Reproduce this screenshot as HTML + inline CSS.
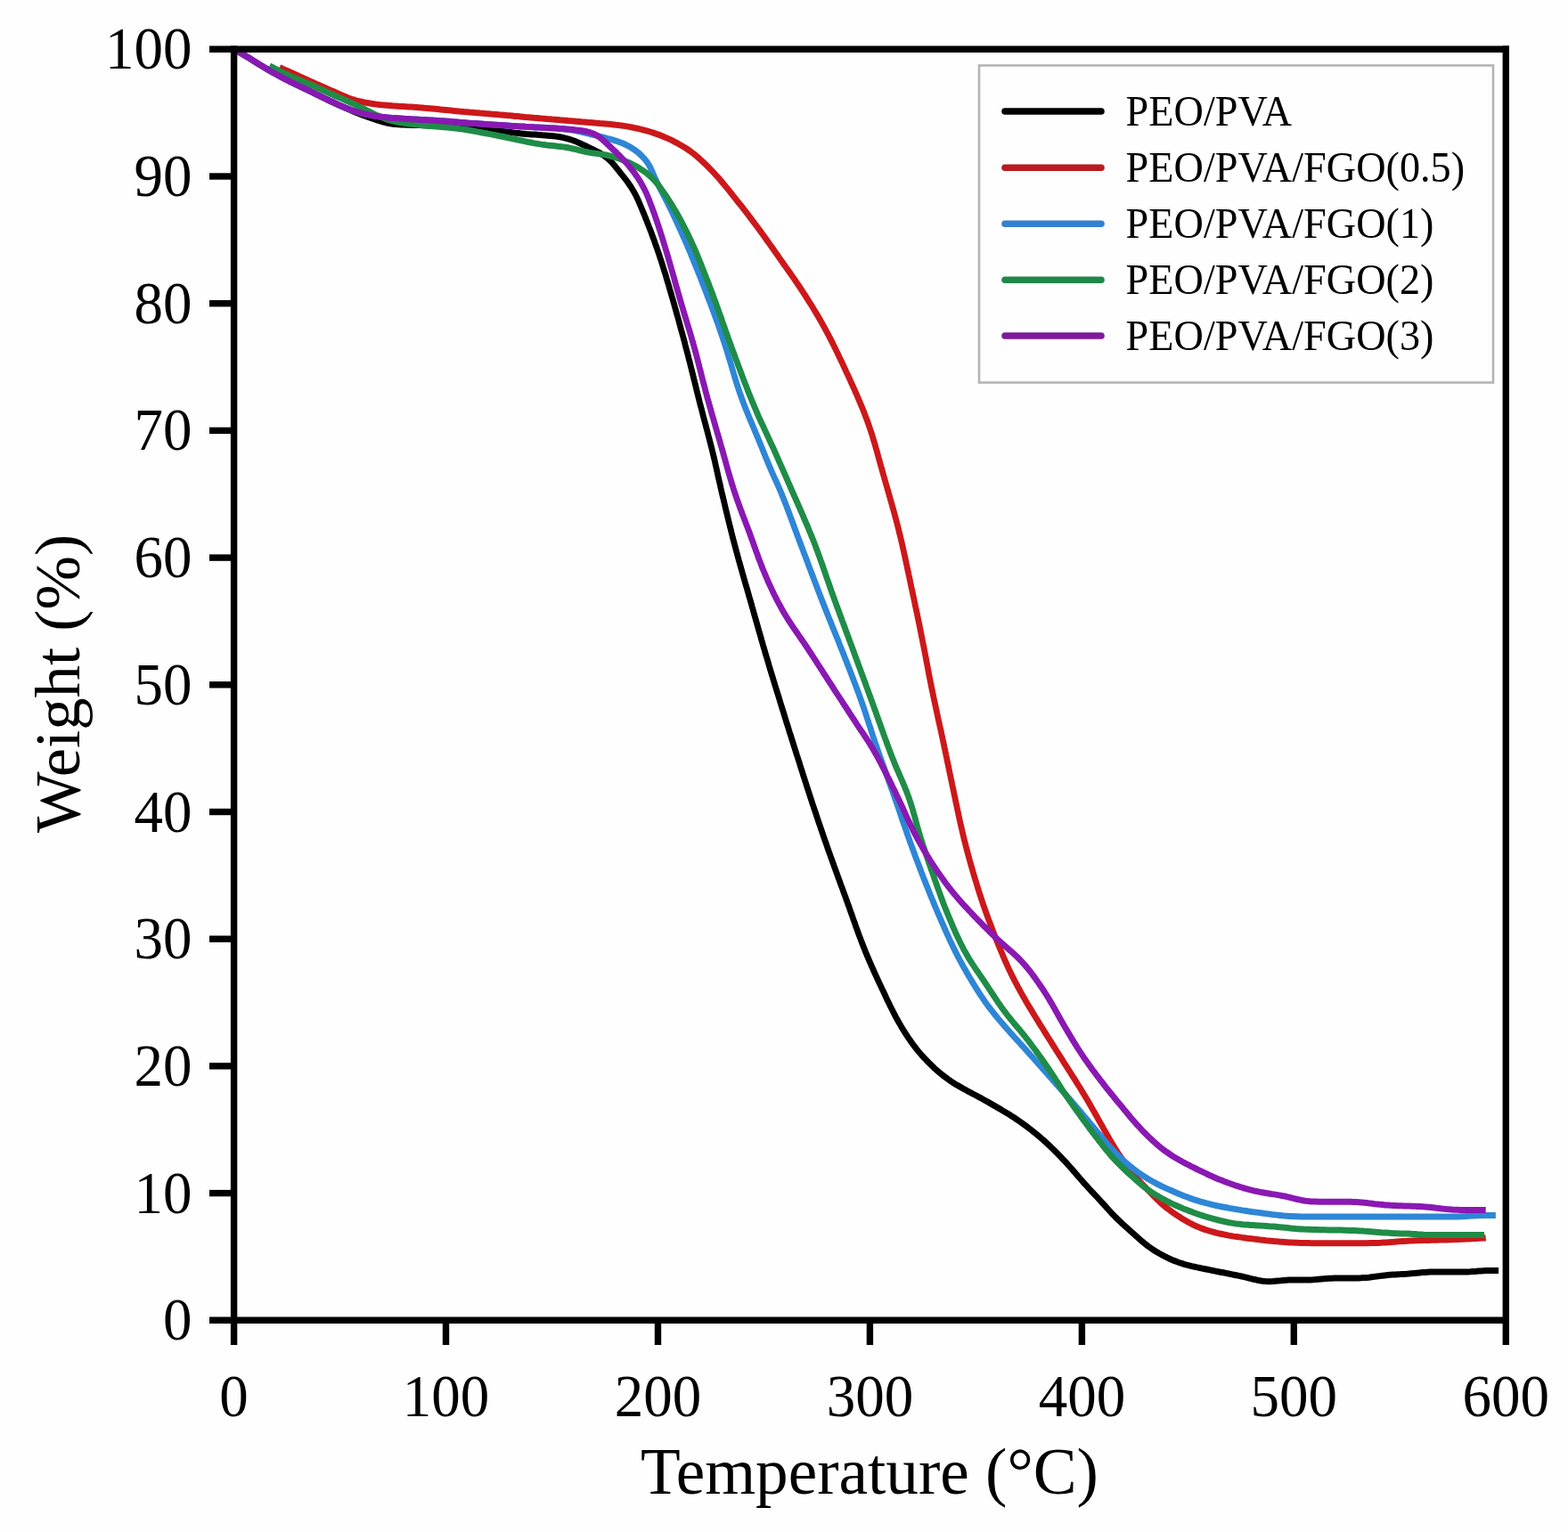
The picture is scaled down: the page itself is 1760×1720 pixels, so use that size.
<!DOCTYPE html>
<html lang="en">
<head>
<meta charset="utf-8">
<title>TGA curves: Weight (%) vs Temperature (°C)</title>
<style>
html,body{margin:0;padding:0;background:#fefefe;}
body{width:1760px;height:1720px;overflow:hidden;}
svg{display:block;}
text{font-family:"Liberation Serif","Times New Roman",Times,serif;fill:#000;}
.tick{font-size:65px;}
.leg{font-size:49.5px;}
.ttl{font-size:73.2px;}
.ax{stroke:#000;stroke-width:7.4;fill:none;stroke-linecap:butt;}
.cv{fill:none;stroke-width:7.0;stroke-linejoin:round;stroke-linecap:butt;}
.ll{fill:none;stroke-width:7.6;stroke-linecap:round;}
</style>
</head>
<body>
<svg width="1760" height="1720" viewBox="0 0 1760 1720">
<rect x="0" y="0" width="1760" height="1720" fill="#fefefe"/>

<g id="curves" transform="scale(0.97 1)">
<path class="cv" stroke="#000000" d="M271.1 55.5 L273.8 57.0 L276.5 58.5 L279.2 59.9 L281.9 61.5 L284.5 63.0 L287.2 64.5 L289.8 66.1 L292.4 67.7 L295.1 69.3 L297.7 70.9 L300.3 72.5 L303.0 74.0 L305.6 75.6 L308.3 77.1 L310.9 78.6 L313.6 80.1 L316.3 81.6 L319.0 83.0 L321.7 84.5 L324.4 85.9 L327.2 87.3 L329.9 88.7 L332.7 90.1 L335.4 91.4 L338.2 92.8 L341.0 94.1 L343.8 95.4 L346.5 96.7 L349.3 98.0 L352.1 99.3 L354.9 100.6 L357.7 101.9 L360.5 103.2 L363.3 104.5 L366.0 105.8 L368.8 107.2 L371.6 108.5 L374.4 109.8 L377.1 111.1 L379.9 112.5 L382.7 113.8 L385.5 115.0 L388.3 116.3 L391.1 117.6 L393.9 118.8 L396.8 120.0 L399.6 121.2 L402.4 122.4 L405.3 123.6 L408.1 124.8 L411.0 125.9 L413.9 127.0 L416.7 128.1 L419.6 129.2 L422.5 130.2 L425.4 131.3 L428.3 132.3 L431.3 133.3 L434.2 134.2 L437.1 135.1 L440.1 136.0 L443.0 136.9 L446.0 137.6 L449.0 138.3 L452.0 138.8 L455.1 139.3 L458.2 139.6 L461.2 139.8 L464.3 140.0 L467.4 140.1 L470.5 140.2 L473.6 140.3 L476.7 140.4 L479.8 140.5 L482.9 140.5 L486.0 140.6 L489.0 140.7 L492.1 140.8 L495.2 140.9 L498.3 141.0 L501.4 141.1 L504.5 141.2 L507.6 141.3 L510.7 141.5 L513.8 141.6 L516.9 141.7 L520.0 141.9 L523.0 142.0 L526.1 142.2 L529.2 142.4 L532.3 142.5 L535.4 142.7 L538.5 142.9 L541.6 143.1 L544.7 143.3 L547.7 143.5 L550.8 143.8 L553.9 144.0 L557.0 144.3 L560.1 144.6 L563.1 144.9 L566.2 145.3 L569.3 145.7 L572.3 146.1 L575.4 146.5 L578.5 146.9 L581.5 147.3 L584.6 147.7 L587.7 148.1 L590.7 148.5 L593.8 148.9 L596.9 149.3 L599.9 149.6 L603.0 149.9 L606.1 150.2 L609.2 150.5 L612.3 150.7 L615.3 150.9 L618.4 151.1 L621.5 151.3 L624.6 151.5 L627.7 151.8 L630.8 152.0 L633.9 152.2 L636.9 152.5 L640.0 152.8 L643.1 153.1 L646.1 153.5 L649.2 154.0 L652.2 154.6 L655.2 155.3 L658.2 156.1 L661.1 157.0 L664.0 158.0 L666.9 159.1 L669.7 160.3 L672.5 161.5 L675.3 162.8 L678.1 164.0 L680.9 165.3 L683.7 166.6 L686.5 167.9 L689.3 169.3 L692.0 170.7 L694.7 172.1 L697.3 173.7 L699.8 175.4 L702.3 177.2 L704.6 179.1 L706.8 181.2 L708.9 183.4 L710.9 185.6 L712.9 188.0 L714.8 190.3 L716.7 192.6 L718.6 195.0 L720.6 197.3 L722.5 199.7 L724.4 202.0 L726.2 204.4 L728.0 206.9 L729.8 209.4 L731.4 211.9 L733.0 214.5 L734.5 217.1 L735.9 219.7 L737.3 222.4 L738.6 225.1 L739.8 227.9 L741.0 230.6 L742.2 233.4 L743.4 236.2 L744.6 239.0 L745.8 241.7 L746.9 244.5 L748.1 247.3 L749.2 250.1 L750.3 252.9 L751.4 255.7 L752.6 258.5 L753.7 261.3 L754.7 264.1 L755.8 266.9 L756.9 269.7 L757.9 272.6 L758.9 275.4 L760.0 278.2 L761.0 281.1 L762.0 283.9 L763.0 286.7 L763.9 289.6 L764.9 292.4 L765.9 295.3 L766.8 298.2 L767.7 301.0 L768.6 303.9 L769.6 306.7 L770.5 309.6 L771.3 312.5 L772.2 315.4 L773.1 318.2 L774.0 321.1 L774.8 324.0 L775.7 326.9 L776.6 329.8 L777.4 332.7 L778.3 335.5 L779.1 338.4 L780.0 341.3 L780.8 344.2 L781.7 347.1 L782.5 350.0 L783.3 352.9 L784.2 355.8 L785.0 358.6 L785.8 361.5 L786.6 364.4 L787.4 367.3 L788.2 370.2 L789.1 373.1 L789.9 376.0 L790.7 378.9 L791.5 381.8 L792.3 384.7 L793.0 387.6 L793.8 390.5 L794.6 393.4 L795.4 396.3 L796.2 399.2 L796.9 402.1 L797.7 405.0 L798.5 407.9 L799.2 410.9 L800.0 413.8 L800.7 416.7 L801.5 419.6 L802.2 422.5 L802.9 425.4 L803.7 428.3 L804.4 431.2 L805.2 434.2 L805.9 437.1 L806.6 440.0 L807.4 442.9 L808.1 445.8 L808.9 448.7 L809.6 451.6 L810.4 454.5 L811.2 457.4 L812.0 460.3 L812.7 463.2 L813.5 466.2 L814.3 469.1 L815.1 472.0 L815.9 474.9 L816.7 477.8 L817.5 480.7 L818.3 483.6 L819.1 486.5 L819.8 489.4 L820.6 492.3 L821.4 495.2 L822.2 498.1 L822.9 501.0 L823.7 503.9 L824.4 506.8 L825.1 509.7 L825.9 512.6 L826.6 515.6 L827.3 518.5 L827.9 521.4 L828.6 524.3 L829.3 527.3 L830.0 530.2 L830.6 533.1 L831.3 536.1 L832.0 539.0 L832.7 541.9 L833.4 544.8 L834.0 547.8 L834.7 550.7 L835.4 553.6 L836.1 556.5 L836.9 559.5 L837.6 562.4 L838.3 565.3 L839.0 568.2 L839.7 571.1 L840.4 574.0 L841.2 577.0 L841.9 579.9 L842.6 582.8 L843.3 585.7 L844.1 588.6 L844.8 591.5 L845.6 594.4 L846.3 597.4 L847.1 600.3 L847.8 603.2 L848.6 606.1 L849.4 609.0 L850.2 611.9 L851.0 614.8 L851.8 617.7 L852.6 620.6 L853.4 623.5 L854.2 626.4 L855.0 629.3 L855.9 632.2 L856.7 635.0 L857.5 637.9 L858.4 640.8 L859.2 643.7 L860.1 646.6 L860.9 649.5 L861.8 652.4 L862.6 655.2 L863.5 658.1 L864.4 661.0 L865.2 663.9 L866.1 666.8 L866.9 669.7 L867.8 672.5 L868.6 675.4 L869.5 678.3 L870.3 681.2 L871.2 684.1 L872.0 687.0 L872.8 689.9 L873.7 692.7 L874.5 695.6 L875.4 698.5 L876.2 701.4 L877.1 704.3 L877.9 707.2 L878.8 710.1 L879.6 712.9 L880.5 715.8 L881.3 718.7 L882.2 721.6 L883.0 724.5 L883.9 727.4 L884.8 730.2 L885.6 733.1 L886.5 736.0 L887.4 738.9 L888.3 741.8 L889.2 744.6 L890.0 747.5 L890.9 750.4 L891.8 753.3 L892.7 756.1 L893.6 759.0 L894.5 761.9 L895.4 764.7 L896.3 767.6 L897.2 770.5 L898.1 773.3 L899.0 776.2 L900.0 779.1 L900.9 781.9 L901.8 784.8 L902.7 787.7 L903.6 790.5 L904.5 793.4 L905.4 796.3 L906.4 799.1 L907.3 802.0 L908.2 804.9 L909.1 807.7 L910.0 810.6 L911.0 813.5 L911.9 816.3 L912.8 819.2 L913.7 822.1 L914.7 824.9 L915.6 827.8 L916.5 830.6 L917.5 833.5 L918.4 836.4 L919.3 839.2 L920.3 842.1 L921.2 844.9 L922.1 847.8 L923.1 850.7 L924.0 853.5 L925.0 856.4 L925.9 859.2 L926.8 862.1 L927.8 865.0 L928.7 867.8 L929.6 870.7 L930.6 873.5 L931.5 876.4 L932.5 879.2 L933.4 882.1 L934.4 885.0 L935.3 887.8 L936.3 890.7 L937.2 893.5 L938.2 896.4 L939.2 899.2 L940.1 902.1 L941.1 904.9 L942.1 907.8 L943.1 910.6 L944.1 913.5 L945.0 916.3 L946.0 919.1 L947.0 922.0 L948.0 924.8 L949.0 927.7 L950.0 930.5 L951.0 933.3 L952.0 936.2 L953.0 939.0 L954.0 941.9 L955.1 944.7 L956.1 947.5 L957.1 950.4 L958.1 953.2 L959.1 956.0 L960.2 958.8 L961.2 961.7 L962.3 964.5 L963.3 967.3 L964.4 970.1 L965.4 973.0 L966.5 975.8 L967.5 978.6 L968.6 981.4 L969.6 984.2 L970.7 987.1 L971.8 989.9 L972.8 992.7 L973.9 995.5 L975.0 998.3 L976.0 1001.1 L977.1 1004.0 L978.2 1006.8 L979.2 1009.6 L980.3 1012.4 L981.3 1015.2 L982.4 1018.1 L983.4 1020.9 L984.4 1023.7 L985.5 1026.6 L986.5 1029.4 L987.5 1032.2 L988.6 1035.0 L989.6 1037.9 L990.6 1040.7 L991.7 1043.5 L992.7 1046.3 L993.8 1049.2 L994.9 1052.0 L996.0 1054.8 L997.1 1057.6 L998.2 1060.4 L999.3 1063.2 L1000.5 1066.0 L1001.6 1068.7 L1002.8 1071.5 L1004.0 1074.3 L1005.2 1077.0 L1006.4 1079.8 L1007.7 1082.5 L1008.9 1085.3 L1010.2 1088.0 L1011.4 1090.8 L1012.7 1093.5 L1014.0 1096.2 L1015.3 1099.0 L1016.6 1101.7 L1017.9 1104.4 L1019.2 1107.1 L1020.5 1109.8 L1021.9 1112.5 L1023.2 1115.3 L1024.5 1118.0 L1025.8 1120.7 L1027.1 1123.4 L1028.5 1126.1 L1029.8 1128.8 L1031.2 1131.5 L1032.6 1134.2 L1034.0 1136.9 L1035.4 1139.5 L1036.8 1142.2 L1038.3 1144.8 L1039.8 1147.4 L1041.4 1150.0 L1042.9 1152.6 L1044.5 1155.2 L1046.2 1157.7 L1047.8 1160.3 L1049.5 1162.8 L1051.2 1165.3 L1053.0 1167.7 L1054.7 1170.2 L1056.5 1172.6 L1058.4 1175.0 L1060.3 1177.4 L1062.2 1179.7 L1064.2 1182.0 L1066.2 1184.3 L1068.3 1186.5 L1070.4 1188.7 L1072.5 1190.9 L1074.7 1193.0 L1076.9 1195.2 L1079.1 1197.2 L1081.4 1199.3 L1083.7 1201.3 L1086.0 1203.3 L1088.4 1205.2 L1090.8 1207.1 L1093.2 1208.9 L1095.7 1210.7 L1098.2 1212.5 L1100.7 1214.2 L1103.3 1215.8 L1106.0 1217.4 L1108.6 1218.9 L1111.3 1220.4 L1114.0 1221.9 L1116.7 1223.3 L1119.4 1224.8 L1122.1 1226.2 L1124.9 1227.6 L1127.6 1229.0 L1130.4 1230.4 L1133.1 1231.8 L1135.8 1233.2 L1138.5 1234.7 L1141.2 1236.2 L1143.9 1237.6 L1146.6 1239.1 L1149.2 1240.6 L1151.9 1242.1 L1154.6 1243.6 L1157.3 1245.1 L1159.9 1246.7 L1162.6 1248.2 L1165.2 1249.7 L1167.9 1251.3 L1170.5 1252.9 L1173.1 1254.5 L1175.7 1256.2 L1178.2 1257.9 L1180.8 1259.6 L1183.3 1261.3 L1185.8 1263.1 L1188.3 1264.9 L1190.7 1266.7 L1193.2 1268.5 L1195.6 1270.4 L1198.0 1272.3 L1200.4 1274.2 L1202.8 1276.1 L1205.1 1278.1 L1207.4 1280.0 L1209.7 1282.0 L1212.0 1284.1 L1214.3 1286.1 L1216.5 1288.2 L1218.7 1290.3 L1220.9 1292.4 L1223.1 1294.5 L1225.3 1296.7 L1227.4 1298.8 L1229.5 1301.0 L1231.7 1303.2 L1233.8 1305.4 L1235.8 1307.6 L1237.9 1309.8 L1240.0 1312.1 L1242.0 1314.4 L1244.0 1316.6 L1246.0 1318.9 L1248.0 1321.2 L1250.1 1323.5 L1252.1 1325.7 L1254.1 1328.0 L1256.2 1330.2 L1258.3 1332.4 L1260.4 1334.6 L1262.5 1336.8 L1264.6 1339.0 L1266.7 1341.2 L1268.9 1343.4 L1271.0 1345.6 L1273.1 1347.8 L1275.1 1350.0 L1277.2 1352.2 L1279.3 1354.4 L1281.3 1356.7 L1283.4 1358.9 L1285.5 1361.1 L1287.6 1363.3 L1289.8 1365.5 L1292.0 1367.6 L1294.2 1369.7 L1296.4 1371.7 L1298.7 1373.8 L1301.0 1375.8 L1303.3 1377.8 L1305.6 1379.8 L1307.9 1381.8 L1310.2 1383.8 L1312.5 1385.8 L1314.8 1387.8 L1317.1 1389.8 L1319.4 1391.8 L1321.7 1393.8 L1324.1 1395.7 L1326.5 1397.6 L1328.9 1399.4 L1331.5 1401.1 L1334.0 1402.8 L1336.6 1404.4 L1339.3 1406.0 L1341.9 1407.5 L1344.6 1408.9 L1347.4 1410.3 L1350.1 1411.7 L1352.9 1413.0 L1355.7 1414.2 L1358.6 1415.4 L1361.5 1416.4 L1364.4 1417.5 L1367.3 1418.4 L1370.3 1419.3 L1373.2 1420.1 L1376.2 1420.8 L1379.2 1421.6 L1382.2 1422.2 L1385.3 1422.9 L1388.3 1423.5 L1391.3 1424.1 L1394.3 1424.7 L1397.4 1425.3 L1400.4 1425.9 L1403.4 1426.5 L1406.5 1427.1 L1409.5 1427.7 L1412.5 1428.3 L1415.6 1428.8 L1418.6 1429.4 L1421.6 1430.0 L1424.7 1430.6 L1427.7 1431.2 L1430.7 1431.8 L1433.8 1432.4 L1436.8 1433.0 L1439.8 1433.6 L1442.8 1434.3 L1445.8 1435.1 L1448.8 1435.8 L1451.8 1436.5 L1454.8 1437.2 L1457.8 1437.8 L1460.8 1438.3 L1463.9 1438.6 L1466.9 1438.7 L1470.0 1438.7 L1473.1 1438.5 L1476.1 1438.2 L1479.2 1437.9 L1482.3 1437.7 L1485.4 1437.4 L1488.5 1437.2 L1491.5 1437.1 L1494.6 1437.1 L1497.7 1437.0 L1500.8 1437.0 L1503.9 1437.0 L1507.0 1437.1 L1510.1 1437.0 L1513.2 1437.0 L1516.3 1436.9 L1519.3 1436.8 L1522.4 1436.6 L1525.5 1436.3 L1528.6 1436.0 L1531.6 1435.7 L1534.7 1435.5 L1537.8 1435.3 L1540.9 1435.2 L1544.0 1435.1 L1547.0 1435.1 L1550.1 1435.1 L1553.2 1435.0 L1556.3 1435.0 L1559.4 1435.0 L1562.5 1435.0 L1565.6 1435.0 L1568.7 1434.9 L1571.8 1434.9 L1574.9 1434.8 L1578.0 1434.6 L1581.0 1434.4 L1584.1 1434.2 L1587.2 1433.8 L1590.3 1433.4 L1593.3 1433.0 L1596.4 1432.6 L1599.4 1432.2 L1602.5 1431.9 L1605.6 1431.6 L1608.7 1431.3 L1611.7 1431.1 L1614.8 1430.9 L1617.9 1430.7 L1621.0 1430.6 L1624.1 1430.4 L1627.2 1430.3 L1630.3 1430.1 L1633.3 1429.8 L1636.4 1429.5 L1639.5 1429.2 L1642.6 1428.9 L1645.6 1428.6 L1648.7 1428.4 L1651.8 1428.2 L1654.9 1428.1 L1658.0 1428.1 L1661.1 1428.0 L1664.2 1428.0 L1667.3 1428.0 L1670.4 1428.0 L1673.5 1428.0 L1676.5 1428.0 L1679.6 1428.0 L1682.7 1428.0 L1685.8 1428.0 L1688.9 1428.0 L1692.0 1428.0 L1695.1 1428.0 L1698.2 1427.9 L1701.3 1427.8 L1704.3 1427.6 L1707.4 1427.4 L1710.5 1427.1 L1713.5 1426.9 L1716.6 1426.7 L1719.7 1426.5 L1722.8 1426.5 L1725.9 1426.4 L1729.0 1426.4 L1732.1 1426.4 L1734.1 1426.4"/>
<path class="cv" stroke="#cc181a" d="M323.5 75.6 L326.3 76.8 L329.1 78.1 L331.9 79.3 L334.7 80.5 L337.6 81.8 L340.4 83.0 L343.2 84.2 L346.0 85.5 L348.8 86.7 L351.7 87.9 L354.5 89.1 L357.3 90.4 L360.1 91.6 L363.0 92.8 L365.8 94.1 L368.6 95.3 L371.4 96.5 L374.2 97.7 L377.1 99.0 L379.9 100.2 L382.7 101.4 L385.6 102.6 L388.4 103.8 L391.2 105.0 L394.1 106.2 L396.9 107.4 L399.8 108.6 L402.6 109.7 L405.5 110.7 L408.4 111.7 L411.4 112.6 L414.4 113.3 L417.4 114.0 L420.4 114.7 L423.4 115.3 L426.5 115.8 L429.5 116.3 L432.6 116.7 L435.6 117.1 L438.7 117.5 L441.8 117.8 L444.9 118.0 L447.9 118.3 L451.0 118.5 L454.1 118.8 L457.2 119.0 L460.3 119.2 L463.4 119.4 L466.5 119.5 L469.5 119.7 L472.6 119.9 L475.7 120.1 L478.8 120.3 L481.9 120.5 L485.0 120.7 L488.1 120.9 L491.1 121.2 L494.2 121.4 L497.3 121.7 L500.4 122.0 L503.5 122.3 L506.5 122.6 L509.6 122.9 L512.7 123.2 L515.8 123.5 L518.9 123.8 L521.9 124.1 L525.0 124.4 L528.1 124.7 L531.2 125.0 L534.3 125.2 L537.3 125.5 L540.4 125.7 L543.5 126.0 L546.6 126.2 L549.7 126.5 L552.8 126.7 L555.8 127.0 L558.9 127.2 L562.0 127.5 L565.1 127.7 L568.2 128.0 L571.2 128.2 L574.3 128.5 L577.4 128.8 L580.5 129.0 L583.6 129.3 L586.7 129.6 L589.7 129.8 L592.8 130.1 L595.9 130.4 L599.0 130.6 L602.1 130.9 L605.1 131.2 L608.2 131.5 L611.3 131.7 L614.4 132.0 L617.5 132.3 L620.6 132.5 L623.6 132.8 L626.7 133.1 L629.8 133.3 L632.9 133.6 L636.0 133.8 L639.0 134.1 L642.1 134.3 L645.2 134.5 L648.3 134.8 L651.4 135.0 L654.5 135.2 L657.6 135.5 L660.6 135.7 L663.7 135.9 L666.8 136.2 L669.9 136.4 L673.0 136.7 L676.1 136.9 L679.1 137.2 L682.2 137.4 L685.3 137.7 L688.4 138.0 L691.5 138.2 L694.5 138.5 L697.6 138.7 L700.7 139.0 L703.8 139.3 L706.9 139.6 L709.9 139.9 L713.0 140.3 L716.1 140.6 L719.2 141.0 L722.2 141.4 L725.3 141.9 L728.3 142.4 L731.4 143.0 L734.4 143.6 L737.4 144.2 L740.4 144.9 L743.4 145.6 L746.4 146.4 L749.4 147.2 L752.3 148.0 L755.3 148.9 L758.2 149.9 L761.2 150.9 L764.0 151.9 L766.9 153.0 L769.8 154.2 L772.6 155.4 L775.4 156.6 L778.2 157.9 L780.9 159.3 L783.7 160.7 L786.4 162.2 L789.1 163.7 L791.7 165.2 L794.3 166.8 L796.9 168.5 L799.4 170.2 L801.8 172.0 L804.3 173.9 L806.6 175.8 L809.0 177.8 L811.3 179.8 L813.5 181.8 L815.8 183.9 L818.0 186.0 L820.2 188.1 L822.3 190.2 L824.5 192.4 L826.6 194.6 L828.7 196.8 L830.8 199.0 L832.8 201.3 L834.8 203.6 L836.8 205.9 L838.8 208.2 L840.7 210.5 L842.7 212.8 L844.6 215.2 L846.5 217.5 L848.5 219.9 L850.4 222.2 L852.3 224.6 L854.2 226.9 L856.2 229.3 L858.1 231.6 L860.0 234.0 L861.9 236.4 L863.8 238.7 L865.7 241.1 L867.5 243.5 L869.4 245.9 L871.3 248.3 L873.1 250.7 L875.0 253.1 L876.8 255.5 L878.7 257.9 L880.5 260.3 L882.3 262.8 L884.1 265.2 L885.9 267.6 L887.7 270.1 L889.5 272.5 L891.3 275.0 L893.1 277.4 L894.9 279.9 L896.6 282.3 L898.4 284.8 L900.2 287.2 L902.0 289.7 L903.8 292.2 L905.5 294.6 L907.3 297.1 L909.1 299.5 L910.9 302.0 L912.7 304.4 L914.5 306.9 L916.2 309.3 L918.0 311.8 L919.8 314.2 L921.5 316.7 L923.3 319.2 L925.0 321.7 L926.7 324.2 L928.4 326.7 L930.1 329.2 L931.8 331.7 L933.4 334.3 L935.1 336.8 L936.7 339.3 L938.4 341.9 L940.0 344.4 L941.6 347.0 L943.2 349.6 L944.8 352.1 L946.4 354.7 L947.9 357.3 L949.5 359.9 L951.0 362.5 L952.5 365.2 L954.0 367.8 L955.5 370.4 L956.9 373.1 L958.4 375.7 L959.8 378.4 L961.2 381.0 L962.6 383.7 L964.0 386.4 L965.4 389.1 L966.8 391.8 L968.1 394.5 L969.5 397.2 L970.8 399.9 L972.1 402.6 L973.5 405.3 L974.8 408.0 L976.1 410.7 L977.4 413.5 L978.7 416.2 L980.0 418.9 L981.3 421.6 L982.6 424.4 L983.9 427.1 L985.1 429.8 L986.4 432.5 L987.7 435.3 L989.0 438.0 L990.2 440.8 L991.5 443.5 L992.7 446.3 L993.9 449.0 L995.1 451.8 L996.3 454.5 L997.5 457.3 L998.7 460.1 L999.8 462.9 L1000.9 465.7 L1002.0 468.5 L1003.1 471.3 L1004.2 474.1 L1005.2 476.9 L1006.2 479.8 L1007.2 482.6 L1008.2 485.5 L1009.1 488.3 L1010.0 491.2 L1010.9 494.1 L1011.8 496.9 L1012.7 499.8 L1013.5 502.7 L1014.4 505.6 L1015.2 508.5 L1016.0 511.4 L1016.8 514.3 L1017.7 517.2 L1018.5 520.1 L1019.3 523.0 L1020.2 525.8 L1021.0 528.7 L1021.8 531.6 L1022.7 534.5 L1023.5 537.4 L1024.4 540.3 L1025.2 543.2 L1026.1 546.0 L1026.9 548.9 L1027.8 551.8 L1028.6 554.7 L1029.5 557.6 L1030.3 560.5 L1031.2 563.4 L1032.0 566.3 L1032.8 569.1 L1033.7 572.0 L1034.5 574.9 L1035.3 577.8 L1036.1 580.7 L1036.9 583.6 L1037.7 586.5 L1038.5 589.4 L1039.2 592.3 L1040.0 595.2 L1040.7 598.2 L1041.5 601.1 L1042.2 604.0 L1042.9 606.9 L1043.6 609.8 L1044.3 612.8 L1045.0 615.7 L1045.7 618.6 L1046.3 621.5 L1047.0 624.5 L1047.6 627.4 L1048.3 630.3 L1048.9 633.3 L1049.6 636.2 L1050.2 639.1 L1050.9 642.1 L1051.5 645.0 L1052.2 648.0 L1052.8 650.9 L1053.4 653.8 L1054.1 656.8 L1054.7 659.7 L1055.4 662.6 L1056.0 665.6 L1056.7 668.5 L1057.3 671.4 L1058.0 674.4 L1058.6 677.3 L1059.2 680.2 L1059.9 683.2 L1060.5 686.1 L1061.2 689.0 L1061.8 692.0 L1062.4 694.9 L1063.0 697.9 L1063.7 700.8 L1064.3 703.7 L1064.9 706.7 L1065.5 709.6 L1066.1 712.6 L1066.7 715.5 L1067.3 718.4 L1067.9 721.4 L1068.5 724.3 L1069.1 727.3 L1069.7 730.2 L1070.3 733.2 L1070.9 736.1 L1071.5 739.1 L1072.0 742.0 L1072.6 745.0 L1073.2 747.9 L1073.8 750.9 L1074.3 753.8 L1074.9 756.8 L1075.5 759.7 L1076.1 762.7 L1076.7 765.6 L1077.3 768.5 L1077.9 771.5 L1078.5 774.4 L1079.2 777.4 L1079.8 780.3 L1080.4 783.2 L1081.1 786.2 L1081.7 789.1 L1082.4 792.0 L1083.0 795.0 L1083.7 797.9 L1084.3 800.8 L1085.0 803.8 L1085.6 806.7 L1086.3 809.6 L1087.0 812.6 L1087.6 815.5 L1088.3 818.4 L1089.0 821.4 L1089.6 824.3 L1090.3 827.2 L1090.9 830.2 L1091.6 833.1 L1092.2 836.0 L1092.8 839.0 L1093.5 841.9 L1094.1 844.8 L1094.7 847.8 L1095.4 850.7 L1096.0 853.7 L1096.6 856.6 L1097.3 859.5 L1097.9 862.5 L1098.5 865.4 L1099.1 868.3 L1099.8 871.3 L1100.4 874.2 L1101.1 877.2 L1101.7 880.1 L1102.3 883.0 L1103.0 886.0 L1103.6 888.9 L1104.2 891.8 L1104.9 894.8 L1105.5 897.7 L1106.1 900.7 L1106.8 903.6 L1107.4 906.5 L1108.0 909.5 L1108.7 912.4 L1109.3 915.3 L1110.0 918.3 L1110.6 921.2 L1111.3 924.1 L1112.0 927.1 L1112.7 930.0 L1113.4 932.9 L1114.1 935.8 L1114.8 938.7 L1115.5 941.7 L1116.3 944.6 L1117.1 947.5 L1117.8 950.4 L1118.6 953.3 L1119.4 956.2 L1120.2 959.1 L1121.0 962.0 L1121.8 964.9 L1122.6 967.8 L1123.5 970.7 L1124.3 973.6 L1125.2 976.4 L1126.0 979.3 L1126.9 982.2 L1127.8 985.1 L1128.7 988.0 L1129.6 990.8 L1130.5 993.7 L1131.4 996.6 L1132.3 999.4 L1133.3 1002.3 L1134.2 1005.1 L1135.2 1008.0 L1136.1 1010.8 L1137.1 1013.7 L1138.1 1016.5 L1139.1 1019.4 L1140.2 1022.2 L1141.2 1025.0 L1142.2 1027.8 L1143.3 1030.7 L1144.4 1033.5 L1145.5 1036.3 L1146.6 1039.1 L1147.7 1041.9 L1148.8 1044.7 L1149.9 1047.5 L1151.0 1050.3 L1152.2 1053.1 L1153.3 1055.9 L1154.5 1058.6 L1155.6 1061.4 L1156.8 1064.2 L1158.0 1067.0 L1159.2 1069.7 L1160.4 1072.5 L1161.6 1075.3 L1162.8 1078.0 L1164.1 1080.8 L1165.3 1083.5 L1166.6 1086.2 L1167.9 1089.0 L1169.3 1091.7 L1170.6 1094.4 L1172.0 1097.0 L1173.4 1099.7 L1174.8 1102.4 L1176.3 1105.0 L1177.7 1107.7 L1179.2 1110.3 L1180.7 1112.9 L1182.2 1115.6 L1183.7 1118.2 L1185.3 1120.8 L1186.8 1123.4 L1188.3 1126.0 L1189.9 1128.6 L1191.5 1131.2 L1193.1 1133.7 L1194.7 1136.3 L1196.3 1138.9 L1197.9 1141.4 L1199.5 1144.0 L1201.2 1146.5 L1202.8 1149.1 L1204.4 1151.6 L1206.1 1154.2 L1207.7 1156.7 L1209.3 1159.3 L1211.0 1161.8 L1212.6 1164.3 L1214.3 1166.9 L1215.9 1169.4 L1217.6 1172.0 L1219.2 1174.5 L1220.9 1177.0 L1222.5 1179.6 L1224.2 1182.1 L1225.8 1184.6 L1227.5 1187.2 L1229.1 1189.7 L1230.8 1192.3 L1232.4 1194.8 L1234.1 1197.3 L1235.8 1199.9 L1237.4 1202.4 L1239.1 1204.9 L1240.7 1207.5 L1242.4 1210.0 L1244.1 1212.5 L1245.7 1215.1 L1247.3 1217.6 L1249.0 1220.2 L1250.6 1222.7 L1252.2 1225.3 L1253.8 1227.8 L1255.4 1230.4 L1257.0 1233.0 L1258.6 1235.6 L1260.1 1238.2 L1261.7 1240.8 L1263.2 1243.4 L1264.7 1246.0 L1266.3 1248.6 L1267.8 1251.2 L1269.3 1253.8 L1270.8 1256.4 L1272.3 1259.0 L1273.9 1261.7 L1275.4 1264.3 L1276.9 1266.9 L1278.4 1269.5 L1279.9 1272.1 L1281.4 1274.7 L1283.0 1277.3 L1284.5 1279.9 L1286.1 1282.5 L1287.7 1285.1 L1289.3 1287.7 L1290.9 1290.2 L1292.6 1292.7 L1294.3 1295.3 L1296.0 1297.8 L1297.7 1300.3 L1299.4 1302.7 L1301.2 1305.2 L1303.0 1307.6 L1304.8 1310.1 L1306.7 1312.4 L1308.6 1314.8 L1310.6 1317.1 L1312.6 1319.4 L1314.6 1321.7 L1316.6 1323.9 L1318.7 1326.2 L1320.8 1328.4 L1322.9 1330.5 L1325.1 1332.7 L1327.2 1334.9 L1329.3 1337.0 L1331.5 1339.2 L1333.6 1341.4 L1335.8 1343.5 L1338.0 1345.6 L1340.2 1347.7 L1342.4 1349.8 L1344.7 1351.8 L1347.1 1353.8 L1349.4 1355.7 L1351.9 1357.5 L1354.3 1359.3 L1356.8 1361.1 L1359.4 1362.8 L1362.0 1364.4 L1364.6 1366.1 L1367.2 1367.7 L1369.8 1369.2 L1372.5 1370.8 L1375.2 1372.2 L1377.9 1373.7 L1380.6 1375.0 L1383.4 1376.3 L1386.3 1377.5 L1389.1 1378.6 L1392.0 1379.6 L1394.9 1380.6 L1397.9 1381.5 L1400.8 1382.4 L1403.8 1383.2 L1406.8 1384.0 L1409.8 1384.7 L1412.8 1385.3 L1415.9 1385.9 L1418.9 1386.5 L1421.9 1387.1 L1425.0 1387.6 L1428.0 1388.1 L1431.1 1388.5 L1434.1 1388.9 L1437.2 1389.4 L1440.3 1389.8 L1443.3 1390.2 L1446.4 1390.5 L1449.5 1390.9 L1452.6 1391.3 L1455.6 1391.6 L1458.7 1392.0 L1461.8 1392.3 L1464.8 1392.7 L1467.9 1393.0 L1471.0 1393.3 L1474.1 1393.6 L1477.2 1393.8 L1480.2 1394.1 L1483.3 1394.3 L1486.4 1394.5 L1489.5 1394.7 L1492.6 1394.9 L1495.7 1395.0 L1498.8 1395.2 L1501.9 1395.3 L1505.0 1395.4 L1508.0 1395.5 L1511.1 1395.6 L1514.2 1395.6 L1517.3 1395.7 L1520.4 1395.7 L1523.5 1395.7 L1526.6 1395.7 L1529.7 1395.7 L1532.8 1395.7 L1535.9 1395.7 L1539.0 1395.7 L1542.1 1395.7 L1545.2 1395.7 L1548.3 1395.7 L1551.4 1395.7 L1554.4 1395.7 L1557.5 1395.7 L1560.6 1395.7 L1563.7 1395.7 L1566.8 1395.7 L1569.9 1395.7 L1573.0 1395.7 L1576.1 1395.7 L1579.2 1395.7 L1582.3 1395.7 L1585.4 1395.6 L1588.5 1395.6 L1591.6 1395.5 L1594.7 1395.4 L1597.7 1395.3 L1600.8 1395.1 L1603.9 1394.9 L1607.0 1394.7 L1610.1 1394.5 L1613.2 1394.3 L1616.3 1394.0 L1619.3 1393.8 L1622.4 1393.6 L1625.5 1393.4 L1628.6 1393.2 L1631.7 1393.1 L1634.8 1392.9 L1637.9 1392.8 L1641.0 1392.7 L1644.1 1392.6 L1647.2 1392.5 L1650.2 1392.5 L1653.3 1392.4 L1656.4 1392.3 L1659.5 1392.2 L1662.6 1392.2 L1665.7 1392.1 L1668.8 1392.0 L1671.9 1391.9 L1675.0 1391.9 L1678.1 1391.8 L1681.2 1391.7 L1684.3 1391.6 L1687.4 1391.5 L1690.4 1391.3 L1693.5 1391.2 L1696.6 1391.1 L1699.7 1390.9 L1702.8 1390.8 L1705.9 1390.6 L1709.0 1390.4 L1712.1 1390.2 L1715.2 1390.1 L1718.2 1389.9 L1719.3 1389.8"/>
<path class="cv" stroke="#2e86d6" d="M271.1 55.5 L273.8 57.0 L276.5 58.5 L279.2 59.9 L281.9 61.5 L284.5 63.0 L287.2 64.5 L289.8 66.1 L292.4 67.7 L295.1 69.3 L297.7 70.9 L300.3 72.5 L302.9 74.0 L305.6 75.6 L308.2 77.1 L310.9 78.6 L313.6 80.1 L316.3 81.6 L319.0 83.0 L321.7 84.5 L324.4 85.9 L327.2 87.3 L329.9 88.7 L332.7 90.1 L335.4 91.4 L338.2 92.8 L341.0 94.1 L343.7 95.4 L346.5 96.7 L349.3 98.0 L352.1 99.3 L354.9 100.6 L357.7 101.9 L360.5 103.2 L363.3 104.5 L366.0 105.8 L368.8 107.1 L371.6 108.4 L374.4 109.8 L377.2 111.1 L379.9 112.4 L382.7 113.6 L385.6 114.9 L388.4 116.1 L391.2 117.4 L394.0 118.6 L396.8 119.8 L399.7 121.0 L402.6 122.1 L405.4 123.1 L408.4 124.1 L411.3 125.1 L414.2 125.9 L417.2 126.8 L420.2 127.5 L423.2 128.2 L426.2 128.9 L429.3 129.4 L432.3 130.0 L435.3 130.5 L438.4 130.9 L441.5 131.3 L444.5 131.6 L447.6 131.9 L450.7 132.1 L453.8 132.4 L456.9 132.6 L460.0 132.8 L463.0 133.0 L466.1 133.2 L469.2 133.4 L472.3 133.6 L475.4 133.7 L478.5 133.9 L481.6 134.0 L484.7 134.2 L487.7 134.4 L490.8 134.5 L493.9 134.7 L497.0 134.9 L500.1 135.0 L503.2 135.2 L506.3 135.4 L509.4 135.6 L512.4 135.8 L515.5 136.1 L518.6 136.3 L521.7 136.5 L524.8 136.8 L527.9 137.0 L530.9 137.2 L534.0 137.5 L537.1 137.7 L540.2 137.9 L543.3 138.2 L546.4 138.4 L549.4 138.6 L552.5 138.8 L555.6 139.0 L558.7 139.2 L561.8 139.4 L564.9 139.6 L568.0 139.8 L571.0 140.0 L574.1 140.2 L577.2 140.4 L580.3 140.6 L583.4 140.8 L586.5 141.0 L589.6 141.2 L592.6 141.4 L595.7 141.5 L598.8 141.7 L601.9 141.9 L605.0 142.1 L608.1 142.3 L611.2 142.4 L614.3 142.6 L617.3 142.7 L620.4 142.9 L623.5 143.0 L626.6 143.2 L629.7 143.3 L632.8 143.5 L635.9 143.7 L639.0 143.9 L642.1 144.1 L645.1 144.3 L648.2 144.5 L651.3 144.8 L654.4 145.1 L657.4 145.5 L660.5 145.9 L663.5 146.4 L666.6 146.9 L669.6 147.5 L672.6 148.1 L675.7 148.8 L678.7 149.5 L681.7 150.2 L684.7 151.0 L687.7 151.7 L690.7 152.4 L693.7 153.2 L696.7 153.9 L699.7 154.6 L702.6 155.4 L705.6 156.1 L708.6 156.9 L711.6 157.8 L714.5 158.7 L717.4 159.7 L720.3 160.8 L723.1 162.0 L725.9 163.3 L728.6 164.7 L731.2 166.3 L733.8 167.9 L736.3 169.7 L738.7 171.5 L741.0 173.5 L743.2 175.6 L745.3 177.8 L747.2 180.0 L749.0 182.4 L750.7 184.9 L752.2 187.5 L753.5 190.2 L754.8 192.9 L756.0 195.7 L757.2 198.4 L758.5 201.1 L759.8 203.9 L761.1 206.5 L762.5 209.2 L763.9 211.9 L765.4 214.6 L766.8 217.2 L768.2 219.9 L769.7 222.5 L771.1 225.2 L772.5 227.9 L773.9 230.6 L775.2 233.2 L776.6 235.9 L777.9 238.6 L779.3 241.4 L780.6 244.1 L781.9 246.8 L783.2 249.5 L784.5 252.2 L785.8 255.0 L787.1 257.7 L788.3 260.4 L789.6 263.2 L790.8 265.9 L792.1 268.6 L793.3 271.4 L794.6 274.1 L795.8 276.9 L797.0 279.7 L798.2 282.4 L799.4 285.2 L800.6 288.0 L801.8 290.7 L802.9 293.5 L804.1 296.3 L805.3 299.1 L806.4 301.9 L807.6 304.6 L808.7 307.4 L809.9 310.2 L811.0 313.0 L812.1 315.8 L813.2 318.6 L814.4 321.4 L815.5 324.2 L816.6 327.0 L817.7 329.8 L818.8 332.6 L819.9 335.4 L821.0 338.2 L822.1 341.0 L823.2 343.8 L824.3 346.6 L825.4 349.4 L826.4 352.2 L827.5 355.1 L828.6 357.9 L829.6 360.7 L830.7 363.5 L831.7 366.3 L832.7 369.2 L833.7 372.0 L834.7 374.8 L835.7 377.7 L836.7 380.5 L837.7 383.4 L838.7 386.2 L839.6 389.1 L840.5 392.0 L841.4 394.8 L842.3 397.7 L843.2 400.6 L844.1 403.4 L845.0 406.3 L845.9 409.2 L846.8 412.1 L847.6 414.9 L848.5 417.8 L849.4 420.7 L850.3 423.6 L851.2 426.4 L852.1 429.3 L853.0 432.2 L854.0 435.0 L855.0 437.9 L855.9 440.7 L857.0 443.5 L858.0 446.4 L859.1 449.2 L860.1 452.0 L861.2 454.8 L862.4 457.6 L863.5 460.4 L864.7 463.2 L865.8 465.9 L867.0 468.7 L868.2 471.5 L869.4 474.2 L870.6 477.0 L871.8 479.8 L873.0 482.5 L874.2 485.3 L875.4 488.1 L876.6 490.8 L877.8 493.6 L879.0 496.4 L880.1 499.2 L881.3 501.9 L882.5 504.7 L883.6 507.5 L884.8 510.3 L885.9 513.1 L887.1 515.8 L888.3 518.6 L889.5 521.4 L890.7 524.1 L891.9 526.9 L893.1 529.7 L894.4 532.4 L895.6 535.1 L896.9 537.9 L898.2 540.6 L899.5 543.3 L900.7 546.1 L902.0 548.8 L903.2 551.6 L904.4 554.3 L905.5 557.1 L906.7 559.9 L907.8 562.7 L909.0 565.5 L910.1 568.3 L911.2 571.1 L912.3 573.9 L913.4 576.7 L914.4 579.5 L915.5 582.3 L916.6 585.1 L917.7 587.9 L918.7 590.8 L919.8 593.6 L920.9 596.4 L922.0 599.2 L923.0 602.0 L924.1 604.8 L925.2 607.6 L926.3 610.4 L927.4 613.2 L928.5 616.0 L929.6 618.9 L930.7 621.7 L931.8 624.5 L932.9 627.3 L934.0 630.1 L935.0 632.9 L936.1 635.7 L937.2 638.5 L938.3 641.3 L939.4 644.1 L940.5 646.9 L941.6 649.7 L942.7 652.5 L943.8 655.3 L944.9 658.1 L946.0 660.9 L947.1 663.7 L948.2 666.5 L949.3 669.3 L950.4 672.1 L951.6 674.9 L952.7 677.7 L953.8 680.5 L955.0 683.3 L956.1 686.1 L957.2 688.9 L958.4 691.7 L959.5 694.5 L960.7 697.2 L961.9 700.0 L963.0 702.8 L964.2 705.6 L965.3 708.4 L966.5 711.2 L967.6 713.9 L968.8 716.7 L970.0 719.5 L971.1 722.3 L972.2 725.1 L973.4 727.9 L974.5 730.7 L975.7 733.4 L976.8 736.2 L977.9 739.0 L979.1 741.8 L980.2 744.6 L981.3 747.4 L982.4 750.2 L983.6 753.0 L984.7 755.8 L985.8 758.6 L986.9 761.4 L988.0 764.2 L989.1 767.0 L990.2 769.8 L991.3 772.6 L992.4 775.4 L993.5 778.2 L994.5 781.0 L995.6 783.9 L996.6 786.7 L997.6 789.5 L998.7 792.4 L999.7 795.2 L1000.6 798.0 L1001.6 800.9 L1002.6 803.7 L1003.5 806.6 L1004.5 809.4 L1005.4 812.3 L1006.4 815.2 L1007.4 818.0 L1008.3 820.9 L1009.3 823.7 L1010.2 826.6 L1011.2 829.4 L1012.2 832.3 L1013.2 835.1 L1014.2 837.9 L1015.2 840.8 L1016.2 843.6 L1017.2 846.4 L1018.3 849.3 L1019.3 852.1 L1020.3 854.9 L1021.4 857.7 L1022.4 860.6 L1023.5 863.4 L1024.5 866.2 L1025.6 869.0 L1026.6 871.8 L1027.7 874.7 L1028.7 877.5 L1029.8 880.3 L1030.8 883.1 L1031.9 886.0 L1032.9 888.8 L1033.9 891.6 L1035.0 894.4 L1036.0 897.3 L1037.0 900.1 L1038.0 902.9 L1039.1 905.8 L1040.1 908.6 L1041.1 911.4 L1042.1 914.3 L1043.0 917.1 L1044.0 920.0 L1045.0 922.8 L1046.0 925.6 L1047.1 928.5 L1048.1 931.3 L1049.1 934.1 L1050.1 937.0 L1051.1 939.8 L1052.2 942.6 L1053.2 945.5 L1054.3 948.3 L1055.3 951.1 L1056.4 953.9 L1057.5 956.7 L1058.5 959.5 L1059.6 962.4 L1060.7 965.2 L1061.8 968.0 L1062.9 970.8 L1064.0 973.6 L1065.1 976.4 L1066.2 979.2 L1067.3 982.0 L1068.4 984.8 L1069.6 987.6 L1070.7 990.4 L1071.8 993.2 L1073.0 995.9 L1074.1 998.7 L1075.3 1001.5 L1076.4 1004.3 L1077.6 1007.1 L1078.8 1009.8 L1080.0 1012.6 L1081.1 1015.4 L1082.3 1018.2 L1083.5 1020.9 L1084.7 1023.7 L1086.0 1026.4 L1087.2 1029.2 L1088.4 1032.0 L1089.6 1034.7 L1090.9 1037.5 L1092.1 1040.2 L1093.4 1042.9 L1094.6 1045.7 L1095.9 1048.4 L1097.2 1051.2 L1098.4 1053.9 L1099.7 1056.6 L1101.1 1059.3 L1102.4 1062.0 L1103.7 1064.7 L1105.1 1067.4 L1106.5 1070.1 L1107.9 1072.8 L1109.3 1075.4 L1110.8 1078.1 L1112.3 1080.7 L1113.7 1083.3 L1115.2 1086.0 L1116.8 1088.6 L1118.3 1091.2 L1119.8 1093.8 L1121.4 1096.4 L1123.0 1099.0 L1124.6 1101.5 L1126.2 1104.1 L1127.8 1106.6 L1129.4 1109.2 L1131.1 1111.7 L1132.8 1114.3 L1134.4 1116.8 L1136.1 1119.3 L1137.9 1121.8 L1139.6 1124.2 L1141.4 1126.7 L1143.2 1129.1 L1145.1 1131.5 L1147.0 1133.9 L1148.9 1136.2 L1150.8 1138.6 L1152.8 1140.9 L1154.7 1143.2 L1156.7 1145.5 L1158.7 1147.8 L1160.8 1150.1 L1162.8 1152.3 L1164.8 1154.6 L1166.9 1156.8 L1168.9 1159.1 L1171.0 1161.3 L1173.0 1163.6 L1175.1 1165.8 L1177.2 1168.0 L1179.3 1170.2 L1181.3 1172.5 L1183.4 1174.7 L1185.5 1176.9 L1187.6 1179.1 L1189.6 1181.3 L1191.7 1183.6 L1193.8 1185.8 L1195.8 1188.0 L1197.9 1190.3 L1199.9 1192.5 L1202.0 1194.8 L1204.0 1197.0 L1206.1 1199.3 L1208.1 1201.5 L1210.2 1203.8 L1212.2 1206.0 L1214.3 1208.3 L1216.3 1210.5 L1218.4 1212.8 L1220.4 1215.0 L1222.5 1217.3 L1224.5 1219.5 L1226.6 1221.7 L1228.6 1224.0 L1230.7 1226.2 L1232.7 1228.5 L1234.8 1230.7 L1236.8 1233.0 L1238.9 1235.2 L1240.9 1237.5 L1242.9 1239.8 L1244.9 1242.1 L1246.9 1244.3 L1248.9 1246.6 L1250.9 1248.9 L1252.9 1251.2 L1254.9 1253.5 L1256.9 1255.8 L1258.8 1258.1 L1260.8 1260.5 L1262.8 1262.8 L1264.8 1265.1 L1266.7 1267.4 L1268.7 1269.7 L1270.7 1272.0 L1272.7 1274.3 L1274.7 1276.6 L1276.6 1278.9 L1278.6 1281.2 L1280.7 1283.5 L1282.7 1285.7 L1284.8 1288.0 L1286.8 1290.2 L1289.0 1292.3 L1291.1 1294.5 L1293.3 1296.6 L1295.5 1298.8 L1297.7 1300.8 L1300.0 1302.9 L1302.3 1304.9 L1304.6 1306.8 L1307.0 1308.8 L1309.4 1310.6 L1311.8 1312.5 L1314.3 1314.3 L1316.8 1316.1 L1319.3 1317.8 L1321.9 1319.5 L1324.4 1321.1 L1327.1 1322.7 L1329.7 1324.2 L1332.4 1325.7 L1335.1 1327.2 L1337.8 1328.6 L1340.6 1330.0 L1343.3 1331.3 L1346.1 1332.6 L1348.9 1333.9 L1351.7 1335.1 L1354.6 1336.3 L1357.4 1337.5 L1360.2 1338.7 L1363.1 1339.9 L1365.9 1341.0 L1368.8 1342.2 L1371.7 1343.3 L1374.6 1344.3 L1377.5 1345.4 L1380.4 1346.4 L1383.3 1347.3 L1386.3 1348.2 L1389.2 1349.1 L1392.2 1349.9 L1395.2 1350.7 L1398.2 1351.4 L1401.2 1352.1 L1404.2 1352.8 L1407.2 1353.5 L1410.2 1354.1 L1413.3 1354.7 L1416.3 1355.3 L1419.3 1355.8 L1422.4 1356.4 L1425.4 1356.9 L1428.5 1357.4 L1431.5 1357.9 L1434.6 1358.4 L1437.6 1358.9 L1440.7 1359.3 L1443.7 1359.8 L1446.8 1360.2 L1449.9 1360.6 L1452.9 1361.0 L1456.0 1361.4 L1459.1 1361.8 L1462.1 1362.2 L1465.2 1362.6 L1468.3 1363.0 L1471.3 1363.4 L1474.4 1363.7 L1477.5 1364.1 L1480.5 1364.4 L1483.6 1364.8 L1486.7 1365.1 L1489.8 1365.3 L1492.9 1365.5 L1495.9 1365.6 L1499.0 1365.8 L1502.1 1365.8 L1505.2 1365.9 L1508.3 1365.9 L1511.4 1365.9 L1514.5 1365.9 L1517.6 1365.9 L1520.7 1365.9 L1523.8 1365.9 L1526.9 1365.9 L1530.0 1365.9 L1533.0 1365.9 L1536.1 1365.9 L1539.2 1365.9 L1542.3 1365.9 L1545.4 1365.9 L1548.5 1365.9 L1551.6 1365.9 L1554.7 1365.9 L1557.8 1365.9 L1560.9 1365.9 L1564.0 1365.9 L1567.1 1365.9 L1570.2 1365.9 L1573.3 1365.9 L1576.3 1365.9 L1579.4 1365.9 L1582.5 1365.9 L1585.6 1365.9 L1588.7 1365.9 L1591.8 1365.9 L1594.9 1365.9 L1598.0 1365.9 L1601.1 1365.9 L1604.2 1365.9 L1607.3 1365.9 L1610.4 1365.9 L1613.5 1365.9 L1616.6 1365.9 L1619.6 1365.9 L1622.7 1365.9 L1625.8 1365.9 L1628.9 1365.9 L1632.0 1365.9 L1635.1 1365.9 L1638.2 1365.9 L1641.3 1365.9 L1644.4 1365.9 L1647.5 1365.9 L1650.6 1365.9 L1653.7 1365.9 L1656.8 1365.9 L1659.9 1365.9 L1662.9 1365.9 L1666.0 1365.9 L1669.1 1365.9 L1672.2 1365.9 L1675.3 1365.9 L1678.4 1365.9 L1681.5 1365.9 L1684.6 1365.9 L1687.7 1365.9 L1690.8 1365.8 L1693.8 1365.7 L1696.9 1365.5 L1700.0 1365.3 L1703.1 1365.1 L1706.1 1364.9 L1709.2 1364.8 L1712.3 1364.7 L1715.4 1364.6 L1718.5 1364.6 L1721.5 1364.6 L1724.6 1364.6 L1727.7 1364.6 L1730.8 1364.6"/>
<path class="cv" stroke="#1f8c47" d="M311.9 73.8 L314.6 75.1 L317.3 76.5 L320.1 77.9 L322.9 79.2 L325.6 80.6 L328.4 81.9 L331.2 83.2 L334.0 84.4 L336.8 85.7 L339.6 86.9 L342.5 88.1 L345.3 89.3 L348.2 90.4 L351.0 91.6 L353.9 92.8 L356.7 93.9 L359.6 95.1 L362.4 96.3 L365.2 97.5 L368.0 98.8 L370.9 100.0 L373.7 101.3 L376.5 102.5 L379.3 103.8 L382.1 105.0 L384.9 106.2 L387.8 107.5 L390.6 108.7 L393.4 109.9 L396.3 111.1 L399.1 112.3 L401.9 113.5 L404.7 114.7 L407.6 115.9 L410.4 117.2 L413.2 118.5 L416.0 119.8 L418.7 121.1 L421.5 122.4 L424.3 123.8 L427.0 125.1 L429.8 126.5 L432.6 127.8 L435.4 129.1 L438.2 130.3 L441.0 131.5 L443.9 132.6 L446.8 133.7 L449.7 134.6 L452.6 135.4 L455.6 136.1 L458.7 136.8 L461.7 137.3 L464.7 137.8 L467.8 138.3 L470.9 138.7 L473.9 139.0 L477.0 139.4 L480.1 139.7 L483.1 140.1 L486.2 140.4 L489.3 140.7 L492.4 141.0 L495.5 141.2 L498.5 141.5 L501.6 141.7 L504.7 142.0 L507.8 142.2 L510.9 142.4 L513.9 142.7 L517.0 143.0 L520.1 143.2 L523.2 143.6 L526.3 143.9 L529.3 144.3 L532.4 144.7 L535.5 145.1 L538.5 145.5 L541.6 146.0 L544.6 146.5 L547.7 147.0 L550.7 147.6 L553.7 148.1 L556.8 148.7 L559.8 149.2 L562.9 149.8 L565.9 150.4 L568.9 150.9 L572.0 151.5 L575.0 152.1 L578.0 152.7 L581.1 153.2 L584.1 153.8 L587.1 154.5 L590.2 155.1 L593.2 155.7 L596.2 156.3 L599.2 157.0 L602.2 157.6 L605.3 158.2 L608.3 158.9 L611.3 159.5 L614.4 160.0 L617.4 160.6 L620.4 161.1 L623.5 161.6 L626.6 162.1 L629.6 162.5 L632.7 162.9 L635.8 163.2 L638.8 163.5 L641.9 163.8 L645.0 164.2 L648.0 164.5 L651.1 164.9 L654.2 165.3 L657.2 165.8 L660.2 166.4 L663.3 167.0 L666.3 167.7 L669.2 168.5 L672.2 169.2 L675.2 169.9 L678.3 170.5 L681.3 171.1 L684.3 171.6 L687.4 172.0 L690.4 172.4 L693.5 172.9 L696.6 173.3 L699.6 173.8 L702.6 174.3 L705.6 175.0 L708.6 175.8 L711.6 176.6 L714.5 177.5 L717.4 178.5 L720.3 179.6 L723.2 180.7 L726.0 181.9 L728.9 183.1 L731.6 184.4 L734.4 185.8 L737.1 187.2 L739.7 188.8 L742.3 190.4 L744.9 192.0 L747.4 193.8 L749.8 195.7 L752.1 197.6 L754.4 199.7 L756.5 201.8 L758.6 204.0 L760.6 206.3 L762.5 208.6 L764.3 211.0 L766.1 213.5 L767.9 215.9 L769.6 218.4 L771.4 220.9 L773.1 223.4 L774.7 225.9 L776.4 228.5 L778.0 231.0 L779.6 233.6 L781.2 236.1 L782.8 238.7 L784.3 241.3 L785.8 244.0 L787.3 246.6 L788.7 249.2 L790.2 251.9 L791.6 254.6 L793.0 257.2 L794.4 259.9 L795.8 262.6 L797.1 265.3 L798.4 268.0 L799.8 270.7 L801.0 273.5 L802.3 276.2 L803.5 278.9 L804.8 281.7 L806.0 284.5 L807.2 287.2 L808.3 290.0 L809.5 292.8 L810.7 295.6 L811.8 298.4 L812.9 301.1 L814.1 303.9 L815.2 306.7 L816.3 309.5 L817.4 312.3 L818.6 315.1 L819.7 317.9 L820.8 320.7 L821.9 323.5 L823.0 326.3 L824.1 329.1 L825.2 331.9 L826.2 334.8 L827.3 337.6 L828.4 340.4 L829.4 343.2 L830.5 346.0 L831.5 348.9 L832.5 351.7 L833.6 354.5 L834.6 357.3 L835.6 360.2 L836.6 363.0 L837.7 365.8 L838.7 368.7 L839.7 371.5 L840.8 374.3 L841.8 377.2 L842.8 380.0 L843.9 382.8 L844.9 385.6 L846.0 388.4 L847.0 391.3 L848.1 394.1 L849.2 396.9 L850.3 399.7 L851.3 402.5 L852.4 405.3 L853.5 408.1 L854.6 411.0 L855.7 413.8 L856.8 416.6 L857.8 419.4 L858.9 422.2 L860.0 425.0 L861.1 427.8 L862.2 430.6 L863.4 433.4 L864.5 436.2 L865.6 439.0 L866.7 441.8 L867.9 444.6 L869.0 447.3 L870.2 450.1 L871.4 452.9 L872.6 455.7 L873.8 458.4 L875.0 461.2 L876.2 464.0 L877.4 466.7 L878.7 469.4 L880.0 472.2 L881.3 474.9 L882.6 477.6 L883.9 480.3 L885.2 483.1 L886.5 485.8 L887.8 488.5 L889.1 491.2 L890.4 493.9 L891.7 496.7 L893.0 499.4 L894.3 502.1 L895.6 504.8 L896.8 507.6 L898.1 510.3 L899.3 513.1 L900.6 515.8 L901.8 518.6 L903.1 521.3 L904.3 524.0 L905.6 526.8 L906.8 529.5 L908.1 532.3 L909.3 535.0 L910.6 537.8 L911.8 540.5 L913.0 543.3 L914.3 546.0 L915.5 548.8 L916.7 551.5 L918.0 554.3 L919.2 557.0 L920.5 559.8 L921.7 562.5 L923.0 565.3 L924.2 568.0 L925.5 570.8 L926.7 573.5 L927.9 576.2 L929.2 579.0 L930.4 581.8 L931.6 584.5 L932.8 587.3 L934.1 590.0 L935.3 592.8 L936.4 595.6 L937.6 598.3 L938.8 601.1 L939.9 603.9 L941.1 606.7 L942.2 609.5 L943.3 612.3 L944.4 615.1 L945.5 617.9 L946.6 620.7 L947.6 623.5 L948.7 626.3 L949.7 629.2 L950.8 632.0 L951.8 634.8 L952.8 637.7 L953.8 640.5 L954.8 643.3 L955.8 646.2 L956.8 649.0 L957.9 651.8 L958.9 654.7 L959.9 657.5 L960.9 660.3 L961.9 663.2 L963.0 666.0 L964.0 668.8 L965.1 671.6 L966.1 674.5 L967.2 677.3 L968.2 680.1 L969.3 682.9 L970.4 685.7 L971.4 688.6 L972.5 691.4 L973.6 694.2 L974.6 697.0 L975.7 699.8 L976.8 702.6 L977.9 705.4 L978.9 708.2 L980.0 711.1 L981.1 713.9 L982.2 716.7 L983.2 719.5 L984.3 722.3 L985.4 725.1 L986.4 727.9 L987.5 730.8 L988.6 733.6 L989.6 736.4 L990.7 739.2 L991.8 742.0 L992.8 744.8 L993.9 747.7 L995.0 750.5 L996.0 753.3 L997.1 756.1 L998.2 758.9 L999.2 761.7 L1000.3 764.6 L1001.4 767.4 L1002.4 770.2 L1003.5 773.0 L1004.5 775.8 L1005.6 778.7 L1006.7 781.5 L1007.7 784.3 L1008.8 787.1 L1009.8 789.9 L1010.9 792.8 L1011.9 795.6 L1013.0 798.4 L1014.0 801.2 L1015.0 804.1 L1016.1 806.9 L1017.1 809.7 L1018.2 812.5 L1019.2 815.4 L1020.2 818.2 L1021.3 821.0 L1022.3 823.8 L1023.4 826.7 L1024.4 829.5 L1025.5 832.3 L1026.5 835.1 L1027.6 837.9 L1028.7 840.7 L1029.8 843.6 L1030.9 846.4 L1032.0 849.2 L1033.1 851.9 L1034.3 854.7 L1035.4 857.5 L1036.6 860.3 L1037.8 863.0 L1039.1 865.8 L1040.3 868.5 L1041.5 871.3 L1042.8 874.1 L1044.0 876.8 L1045.2 879.6 L1046.4 882.3 L1047.5 885.1 L1048.7 887.9 L1049.8 890.7 L1050.9 893.5 L1051.9 896.3 L1052.9 899.2 L1053.9 902.0 L1054.8 904.9 L1055.7 907.7 L1056.6 910.6 L1057.4 913.5 L1058.3 916.4 L1059.1 919.3 L1059.9 922.2 L1060.7 925.1 L1061.5 928.0 L1062.4 930.9 L1063.2 933.7 L1064.1 936.6 L1065.0 939.5 L1065.9 942.4 L1066.9 945.2 L1067.8 948.1 L1068.8 950.9 L1069.7 953.8 L1070.7 956.6 L1071.7 959.5 L1072.7 962.3 L1073.7 965.1 L1074.7 968.0 L1075.7 970.8 L1076.7 973.6 L1077.7 976.5 L1078.8 979.3 L1079.8 982.1 L1080.8 985.0 L1081.8 987.8 L1082.9 990.6 L1083.9 993.5 L1084.9 996.3 L1086.0 999.1 L1087.0 1001.9 L1088.1 1004.8 L1089.1 1007.6 L1090.2 1010.4 L1091.3 1013.2 L1092.4 1016.0 L1093.5 1018.8 L1094.7 1021.6 L1095.8 1024.4 L1097.0 1027.1 L1098.2 1029.9 L1099.4 1032.7 L1100.6 1035.4 L1101.8 1038.2 L1103.0 1041.0 L1104.3 1043.7 L1105.5 1046.5 L1106.8 1049.2 L1108.1 1051.9 L1109.4 1054.6 L1110.7 1057.3 L1112.1 1060.0 L1113.5 1062.7 L1114.9 1065.4 L1116.4 1068.0 L1117.9 1070.6 L1119.4 1073.2 L1121.0 1075.8 L1122.6 1078.3 L1124.3 1080.9 L1126.0 1083.4 L1127.7 1085.9 L1129.4 1088.4 L1131.2 1090.8 L1132.9 1093.3 L1134.7 1095.8 L1136.4 1098.3 L1138.2 1100.7 L1139.9 1103.2 L1141.6 1105.7 L1143.3 1108.2 L1145.0 1110.8 L1146.7 1113.3 L1148.4 1115.8 L1150.1 1118.3 L1151.8 1120.8 L1153.5 1123.3 L1155.2 1125.8 L1157.0 1128.2 L1158.8 1130.7 L1160.6 1133.1 L1162.4 1135.5 L1164.3 1137.9 L1166.2 1140.3 L1168.1 1142.6 L1170.1 1144.9 L1172.0 1147.3 L1174.0 1149.6 L1176.0 1151.8 L1178.0 1154.1 L1180.0 1156.4 L1182.0 1158.8 L1183.9 1161.1 L1185.9 1163.4 L1187.8 1165.8 L1189.7 1168.1 L1191.6 1170.5 L1193.4 1172.9 L1195.3 1175.3 L1197.1 1177.7 L1199.0 1180.1 L1200.8 1182.6 L1202.6 1185.0 L1204.4 1187.4 L1206.2 1189.9 L1208.0 1192.3 L1209.8 1194.8 L1211.5 1197.2 L1213.3 1199.7 L1215.0 1202.2 L1216.7 1204.7 L1218.4 1207.2 L1220.1 1209.7 L1221.8 1212.3 L1223.4 1214.8 L1225.1 1217.3 L1226.8 1219.8 L1228.4 1222.4 L1230.1 1224.9 L1231.8 1227.4 L1233.6 1229.9 L1235.3 1232.3 L1237.0 1234.8 L1238.8 1237.3 L1240.6 1239.7 L1242.4 1242.2 L1244.2 1244.6 L1246.0 1247.1 L1247.8 1249.5 L1249.6 1251.9 L1251.4 1254.4 L1253.2 1256.8 L1255.0 1259.2 L1256.9 1261.6 L1258.7 1264.0 L1260.5 1266.5 L1262.4 1268.9 L1264.2 1271.3 L1266.1 1273.7 L1268.0 1276.0 L1269.9 1278.4 L1271.8 1280.8 L1273.7 1283.2 L1275.6 1285.5 L1277.5 1287.9 L1279.4 1290.2 L1281.4 1292.5 L1283.4 1294.8 L1285.4 1297.1 L1287.4 1299.4 L1289.5 1301.6 L1291.6 1303.7 L1293.8 1305.9 L1296.0 1308.0 L1298.2 1310.1 L1300.4 1312.2 L1302.7 1314.3 L1304.9 1316.3 L1307.2 1318.4 L1309.5 1320.4 L1311.8 1322.4 L1314.1 1324.4 L1316.4 1326.4 L1318.7 1328.3 L1321.1 1330.3 L1323.5 1332.2 L1325.9 1334.0 L1328.4 1335.8 L1330.9 1337.5 L1333.5 1339.2 L1336.1 1340.8 L1338.7 1342.3 L1341.4 1343.8 L1344.1 1345.3 L1346.8 1346.7 L1349.6 1348.1 L1352.3 1349.5 L1355.1 1350.8 L1357.9 1352.1 L1360.7 1353.3 L1363.5 1354.5 L1366.4 1355.7 L1369.2 1356.9 L1372.1 1358.0 L1375.0 1359.1 L1377.9 1360.1 L1380.8 1361.2 L1383.7 1362.2 L1386.6 1363.2 L1389.5 1364.2 L1392.5 1365.1 L1395.4 1366.0 L1398.4 1366.9 L1401.4 1367.7 L1404.3 1368.5 L1407.3 1369.2 L1410.3 1370.0 L1413.3 1370.7 L1416.3 1371.3 L1419.4 1372.0 L1422.4 1372.6 L1425.4 1373.1 L1428.5 1373.6 L1431.5 1374.0 L1434.6 1374.3 L1437.7 1374.7 L1440.8 1374.9 L1443.9 1375.1 L1446.9 1375.4 L1450.0 1375.5 L1453.1 1375.7 L1456.2 1375.9 L1459.3 1376.1 L1462.4 1376.2 L1465.5 1376.4 L1468.5 1376.7 L1471.6 1376.9 L1474.7 1377.1 L1477.8 1377.4 L1480.9 1377.7 L1483.9 1378.0 L1487.0 1378.3 L1490.1 1378.6 L1493.2 1378.9 L1496.2 1379.2 L1499.3 1379.5 L1502.4 1379.7 L1505.5 1379.9 L1508.6 1380.1 L1511.7 1380.2 L1514.8 1380.3 L1517.9 1380.4 L1520.9 1380.5 L1524.0 1380.6 L1527.1 1380.7 L1530.2 1380.7 L1533.3 1380.8 L1536.4 1380.9 L1539.5 1380.9 L1542.6 1381.0 L1545.7 1381.0 L1548.8 1381.1 L1551.9 1381.1 L1555.0 1381.2 L1558.1 1381.3 L1561.1 1381.4 L1564.2 1381.5 L1567.3 1381.6 L1570.4 1381.7 L1573.5 1381.9 L1576.6 1382.0 L1579.7 1382.3 L1582.8 1382.5 L1585.8 1382.7 L1588.9 1382.9 L1592.0 1383.2 L1595.1 1383.4 L1598.2 1383.7 L1601.3 1383.9 L1604.3 1384.1 L1607.4 1384.3 L1610.5 1384.5 L1613.6 1384.7 L1616.7 1384.8 L1619.8 1384.9 L1622.9 1384.9 L1626.0 1385.0 L1629.1 1385.1 L1632.1 1385.2 L1635.2 1385.4 L1638.3 1385.6 L1641.4 1385.9 L1644.5 1386.1 L1647.5 1386.3 L1650.6 1386.4 L1653.7 1386.5 L1656.8 1386.6 L1659.9 1386.6 L1663.0 1386.6 L1666.1 1386.6 L1669.2 1386.6 L1672.3 1386.6 L1675.4 1386.6 L1678.5 1386.6 L1681.5 1386.6 L1684.6 1386.6 L1687.7 1386.6 L1690.8 1386.6 L1693.9 1386.6 L1697.0 1386.6 L1700.1 1386.6 L1703.2 1386.6 L1706.3 1386.6 L1709.4 1386.6 L1712.5 1386.6 L1715.6 1386.6 L1717.6 1386.6"/>
<path class="cv" stroke="#8a18b2" d="M274.2 57.0 L276.9 58.5 L279.5 60.1 L282.2 61.6 L284.8 63.2 L287.5 64.7 L290.1 66.3 L292.7 67.9 L295.4 69.5 L298.0 71.1 L300.6 72.7 L303.2 74.2 L305.9 75.8 L308.6 77.3 L311.2 78.8 L313.9 80.3 L316.6 81.8 L319.3 83.2 L322.0 84.6 L324.8 86.1 L327.5 87.5 L330.2 88.9 L333.0 90.2 L335.7 91.6 L338.5 92.9 L341.3 94.2 L344.1 95.6 L346.9 96.9 L349.7 98.2 L352.4 99.4 L355.2 100.7 L358.0 102.0 L360.8 103.3 L363.6 104.6 L366.4 106.0 L369.2 107.3 L371.9 108.6 L374.7 109.9 L377.5 111.2 L380.3 112.5 L383.1 113.8 L385.9 115.0 L388.7 116.3 L391.5 117.5 L394.4 118.7 L397.2 119.9 L400.0 121.1 L402.9 122.2 L405.8 123.3 L408.7 124.3 L411.7 125.2 L414.6 126.0 L417.6 126.8 L420.6 127.6 L423.6 128.3 L426.6 128.9 L429.6 129.5 L432.7 130.0 L435.7 130.5 L438.8 130.9 L441.9 131.3 L444.9 131.6 L448.0 131.9 L451.1 132.2 L454.2 132.4 L457.3 132.6 L460.3 132.8 L463.4 133.0 L466.5 133.2 L469.6 133.4 L472.7 133.6 L475.8 133.8 L478.9 133.9 L482.0 134.1 L485.0 134.2 L488.1 134.4 L491.2 134.5 L494.3 134.7 L497.4 134.9 L500.5 135.1 L503.6 135.2 L506.7 135.4 L509.7 135.7 L512.8 135.9 L515.9 136.1 L519.0 136.3 L522.1 136.6 L525.2 136.8 L528.2 137.0 L531.3 137.3 L534.4 137.5 L537.5 137.7 L540.6 138.0 L543.7 138.2 L546.8 138.4 L549.8 138.6 L552.9 138.8 L556.0 139.0 L559.1 139.2 L562.2 139.5 L565.3 139.7 L568.4 139.9 L571.4 140.1 L574.5 140.2 L577.6 140.4 L580.7 140.6 L583.8 140.8 L586.9 141.0 L590.0 141.2 L593.0 141.4 L596.1 141.6 L599.2 141.8 L602.3 141.9 L605.4 142.1 L608.5 142.3 L611.6 142.4 L614.7 142.6 L617.8 142.8 L620.8 142.9 L623.9 143.1 L627.0 143.2 L630.1 143.4 L633.2 143.5 L636.3 143.7 L639.4 143.8 L642.5 144.0 L645.6 144.2 L648.6 144.4 L651.7 144.6 L654.8 144.9 L657.9 145.1 L661.0 145.4 L664.0 145.6 L667.1 146.0 L670.2 146.3 L673.2 146.7 L676.3 147.2 L679.3 147.8 L682.3 148.6 L685.1 149.5 L687.9 150.6 L690.6 152.0 L693.1 153.6 L695.5 155.4 L697.8 157.4 L700.1 159.4 L702.4 161.4 L704.6 163.5 L706.9 165.5 L709.1 167.6 L711.4 169.7 L713.6 171.7 L715.8 173.8 L718.0 175.9 L720.2 178.1 L722.3 180.3 L724.4 182.5 L726.4 184.8 L728.4 187.0 L730.3 189.4 L732.2 191.7 L734.1 194.1 L735.9 196.6 L737.6 199.0 L739.3 201.5 L741.0 204.1 L742.5 206.7 L744.0 209.3 L745.4 211.9 L746.8 214.6 L748.1 217.4 L749.3 220.1 L750.5 222.9 L751.6 225.7 L752.7 228.5 L753.8 231.3 L754.9 234.1 L755.9 236.9 L757.0 239.7 L758.0 242.6 L759.0 245.4 L760.0 248.2 L761.0 251.1 L762.0 253.9 L762.9 256.8 L763.9 259.6 L764.8 262.5 L765.8 265.4 L766.7 268.2 L767.6 271.1 L768.5 274.0 L769.4 276.8 L770.3 279.7 L771.2 282.6 L772.1 285.5 L773.0 288.3 L773.8 291.2 L774.7 294.1 L775.5 297.0 L776.4 299.9 L777.2 302.7 L778.1 305.6 L778.9 308.5 L779.8 311.4 L780.6 314.3 L781.4 317.2 L782.2 320.1 L783.1 323.0 L783.9 325.9 L784.8 328.7 L785.6 331.6 L786.5 334.5 L787.3 337.4 L788.2 340.3 L789.1 343.2 L790.0 346.0 L790.8 348.9 L791.7 351.8 L792.6 354.6 L793.5 357.5 L794.4 360.4 L795.3 363.3 L796.2 366.1 L797.1 369.0 L798.0 371.9 L798.9 374.7 L799.8 377.6 L800.6 380.5 L801.5 383.4 L802.3 386.3 L803.2 389.2 L804.0 392.1 L804.8 395.0 L805.6 397.9 L806.4 400.8 L807.1 403.7 L807.9 406.6 L808.7 409.5 L809.4 412.4 L810.2 415.3 L811.0 418.2 L811.7 421.1 L812.5 424.0 L813.2 426.9 L814.0 429.8 L814.8 432.7 L815.6 435.6 L816.3 438.5 L817.1 441.4 L817.9 444.3 L818.7 447.2 L819.6 450.1 L820.4 453.0 L821.2 455.9 L822.1 458.8 L822.9 461.7 L823.7 464.6 L824.6 467.5 L825.5 470.3 L826.3 473.2 L827.2 476.1 L828.0 479.0 L828.9 481.9 L829.7 484.8 L830.6 487.6 L831.5 490.5 L832.3 493.4 L833.2 496.3 L834.0 499.2 L834.9 502.1 L835.7 504.9 L836.6 507.8 L837.4 510.7 L838.2 513.6 L839.1 516.5 L839.9 519.4 L840.7 522.3 L841.6 525.2 L842.4 528.1 L843.2 530.9 L844.1 533.8 L845.0 536.7 L845.9 539.6 L846.7 542.5 L847.7 545.3 L848.6 548.2 L849.5 551.0 L850.5 553.9 L851.5 556.7 L852.5 559.6 L853.5 562.4 L854.6 565.2 L855.6 568.0 L856.7 570.9 L857.8 573.7 L858.8 576.5 L859.9 579.3 L861.0 582.1 L862.1 584.9 L863.2 587.7 L864.3 590.5 L865.4 593.3 L866.5 596.1 L867.6 598.9 L868.6 601.8 L869.7 604.6 L870.8 607.4 L871.8 610.2 L872.8 613.0 L873.9 615.9 L874.9 618.7 L876.0 621.5 L877.0 624.3 L878.1 627.2 L879.2 630.0 L880.3 632.8 L881.4 635.6 L882.5 638.4 L883.7 641.1 L884.9 643.9 L886.1 646.7 L887.3 649.4 L888.5 652.2 L889.8 654.9 L891.1 657.6 L892.4 660.4 L893.7 663.1 L895.0 665.8 L896.4 668.5 L897.8 671.2 L899.2 673.8 L900.6 676.5 L902.1 679.1 L903.6 681.8 L905.1 684.4 L906.6 687.0 L908.2 689.6 L909.8 692.1 L911.4 694.7 L913.1 697.2 L914.8 699.7 L916.5 702.2 L918.2 704.7 L920.0 707.2 L921.7 709.7 L923.5 712.1 L925.2 714.6 L927.0 717.1 L928.7 719.5 L930.5 722.0 L932.2 724.5 L933.9 727.0 L935.6 729.5 L937.3 732.0 L939.0 734.5 L940.7 737.1 L942.4 739.6 L944.1 742.1 L945.7 744.6 L947.4 747.1 L949.1 749.7 L950.8 752.2 L952.4 754.7 L954.1 757.2 L955.8 759.7 L957.4 762.3 L959.1 764.8 L960.8 767.3 L962.5 769.8 L964.2 772.4 L965.8 774.9 L967.5 777.4 L969.2 779.9 L970.9 782.4 L972.6 784.9 L974.3 787.4 L976.0 790.0 L977.7 792.5 L979.4 795.0 L981.1 797.5 L982.7 800.0 L984.4 802.5 L986.1 805.0 L987.8 807.5 L989.5 810.0 L991.2 812.6 L992.9 815.1 L994.6 817.6 L996.3 820.1 L998.1 822.5 L999.8 825.0 L1001.5 827.5 L1003.2 830.1 L1004.9 832.6 L1006.5 835.1 L1008.1 837.7 L1009.7 840.2 L1011.3 842.8 L1012.8 845.4 L1014.4 848.0 L1015.8 850.7 L1017.3 853.3 L1018.8 856.0 L1020.2 858.6 L1021.6 861.3 L1023.0 864.0 L1024.4 866.6 L1025.8 869.3 L1027.1 872.0 L1028.5 874.7 L1029.9 877.4 L1031.3 880.1 L1032.6 882.8 L1034.0 885.5 L1035.4 888.2 L1036.7 890.9 L1038.0 893.6 L1039.4 896.3 L1040.7 899.0 L1042.0 901.7 L1043.3 904.4 L1044.6 907.1 L1045.9 909.9 L1047.2 912.6 L1048.4 915.3 L1049.7 918.1 L1051.0 920.8 L1052.3 923.5 L1053.6 926.2 L1055.0 928.9 L1056.3 931.6 L1057.7 934.3 L1059.2 937.0 L1060.6 939.6 L1062.1 942.3 L1063.6 944.9 L1065.1 947.5 L1066.6 950.1 L1068.1 952.7 L1069.7 955.3 L1071.3 957.9 L1072.9 960.5 L1074.5 963.0 L1076.1 965.6 L1077.8 968.1 L1079.5 970.6 L1081.2 973.1 L1082.9 975.6 L1084.6 978.1 L1086.3 980.6 L1088.1 983.0 L1089.9 985.5 L1091.7 987.9 L1093.5 990.4 L1095.4 992.8 L1097.2 995.2 L1099.1 997.5 L1101.0 999.9 L1103.0 1002.2 L1104.9 1004.5 L1106.9 1006.8 L1108.9 1009.1 L1111.0 1011.4 L1113.0 1013.6 L1115.1 1015.8 L1117.2 1018.0 L1119.3 1020.2 L1121.4 1022.4 L1123.6 1024.6 L1125.7 1026.8 L1127.8 1028.9 L1130.0 1031.1 L1132.1 1033.3 L1134.3 1035.4 L1136.4 1037.6 L1138.6 1039.7 L1140.8 1041.8 L1143.0 1043.9 L1145.2 1046.1 L1147.4 1048.2 L1149.6 1050.2 L1151.8 1052.3 L1154.1 1054.4 L1156.4 1056.4 L1158.6 1058.4 L1161.0 1060.4 L1163.3 1062.4 L1165.6 1064.4 L1167.9 1066.4 L1170.3 1068.3 L1172.6 1070.3 L1174.8 1072.4 L1177.1 1074.4 L1179.3 1076.5 L1181.4 1078.7 L1183.5 1080.9 L1185.6 1083.1 L1187.6 1085.4 L1189.6 1087.7 L1191.5 1090.0 L1193.4 1092.4 L1195.3 1094.8 L1197.1 1097.2 L1198.9 1099.7 L1200.7 1102.1 L1202.4 1104.6 L1204.2 1107.1 L1205.9 1109.5 L1207.6 1112.0 L1209.3 1114.6 L1211.0 1117.1 L1212.6 1119.6 L1214.2 1122.2 L1215.8 1124.8 L1217.4 1127.4 L1218.9 1130.0 L1220.4 1132.6 L1221.9 1135.2 L1223.4 1137.8 L1224.9 1140.4 L1226.4 1143.0 L1228.0 1145.7 L1229.5 1148.3 L1231.0 1150.9 L1232.6 1153.5 L1234.2 1156.1 L1235.7 1158.6 L1237.3 1161.2 L1238.9 1163.8 L1240.5 1166.4 L1242.1 1168.9 L1243.7 1171.5 L1245.4 1174.0 L1247.0 1176.6 L1248.7 1179.1 L1250.4 1181.6 L1252.1 1184.1 L1253.8 1186.6 L1255.5 1189.1 L1257.3 1191.5 L1259.1 1194.0 L1260.9 1196.4 L1262.7 1198.9 L1264.5 1201.3 L1266.4 1203.7 L1268.2 1206.1 L1270.1 1208.5 L1272.0 1210.9 L1273.8 1213.3 L1275.7 1215.6 L1277.6 1218.0 L1279.5 1220.4 L1281.4 1222.7 L1283.4 1225.1 L1285.3 1227.4 L1287.3 1229.7 L1289.2 1232.1 L1291.2 1234.4 L1293.1 1236.7 L1295.1 1239.0 L1297.1 1241.3 L1299.0 1243.6 L1301.0 1246.0 L1303.0 1248.3 L1305.0 1250.6 L1306.9 1252.9 L1308.9 1255.2 L1310.9 1257.5 L1313.0 1259.7 L1315.0 1262.0 L1317.1 1264.2 L1319.2 1266.4 L1321.3 1268.6 L1323.4 1270.8 L1325.6 1272.9 L1327.8 1275.0 L1330.0 1277.1 L1332.3 1279.1 L1334.5 1281.2 L1336.8 1283.2 L1339.2 1285.2 L1341.5 1287.1 L1343.9 1289.0 L1346.4 1290.8 L1348.8 1292.6 L1351.4 1294.3 L1353.9 1296.0 L1356.5 1297.7 L1359.1 1299.2 L1361.8 1300.8 L1364.5 1302.3 L1367.2 1303.7 L1369.9 1305.2 L1372.6 1306.6 L1375.4 1307.9 L1378.1 1309.3 L1380.9 1310.6 L1383.7 1312.0 L1386.4 1313.3 L1389.2 1314.6 L1392.0 1315.9 L1394.8 1317.2 L1397.6 1318.5 L1400.4 1319.8 L1403.2 1321.0 L1406.0 1322.2 L1408.9 1323.4 L1411.7 1324.5 L1414.6 1325.6 L1417.5 1326.7 L1420.4 1327.8 L1423.3 1328.8 L1426.2 1329.8 L1429.1 1330.8 L1432.1 1331.7 L1435.0 1332.6 L1438.0 1333.5 L1441.0 1334.3 L1443.9 1335.1 L1446.9 1335.9 L1449.9 1336.6 L1452.9 1337.3 L1456.0 1337.9 L1459.0 1338.5 L1462.0 1339.0 L1465.1 1339.5 L1468.1 1340.0 L1471.2 1340.5 L1474.2 1340.9 L1477.3 1341.4 L1480.3 1341.9 L1483.4 1342.5 L1486.4 1343.0 L1489.4 1343.7 L1492.5 1344.3 L1495.5 1345.1 L1498.5 1345.8 L1501.5 1346.5 L1504.5 1347.1 L1507.5 1347.7 L1510.5 1348.2 L1513.6 1348.6 L1516.7 1348.9 L1519.7 1349.0 L1522.8 1349.1 L1525.9 1349.2 L1529.0 1349.2 L1532.1 1349.2 L1535.2 1349.2 L1538.3 1349.2 L1541.4 1349.2 L1544.5 1349.2 L1547.6 1349.2 L1550.7 1349.2 L1553.7 1349.2 L1556.8 1349.2 L1559.9 1349.3 L1563.0 1349.3 L1566.1 1349.4 L1569.2 1349.5 L1572.3 1349.7 L1575.4 1350.0 L1578.4 1350.3 L1581.5 1350.6 L1584.6 1350.9 L1587.7 1351.3 L1590.7 1351.7 L1593.8 1352.0 L1596.9 1352.3 L1600.0 1352.6 L1603.0 1352.9 L1606.1 1353.1 L1609.2 1353.3 L1612.3 1353.4 L1615.4 1353.6 L1618.5 1353.7 L1621.6 1353.8 L1624.7 1353.9 L1627.7 1354.0 L1630.8 1354.1 L1633.9 1354.2 L1637.0 1354.3 L1640.1 1354.4 L1643.2 1354.6 L1646.3 1354.8 L1649.4 1355.0 L1652.4 1355.2 L1655.5 1355.5 L1658.6 1355.8 L1661.7 1356.2 L1664.7 1356.6 L1667.8 1356.9 L1670.9 1357.3 L1674.0 1357.6 L1677.0 1357.8 L1680.1 1358.1 L1683.2 1358.2 L1686.3 1358.3 L1689.4 1358.4 L1692.5 1358.4 L1695.6 1358.4 L1698.7 1358.4 L1701.8 1358.4 L1704.8 1358.4 L1707.9 1358.4 L1711.0 1358.4 L1714.1 1358.4 L1717.2 1358.4 L1719.3 1358.4"/>
</g>
<g id="axes">
<line class="ax" x1="235.0" y1="55.3" x2="1694.0" y2="55.3"/>
<line class="ax" x1="235.0" y1="1482.3" x2="1694.0" y2="1482.3"/>
<line class="ax" x1="262.6" y1="51.599999999999994" x2="262.6" y2="1510.0"/>
<line class="ax" x1="1690.3" y1="51.599999999999994" x2="1690.3" y2="1510.0"/>
<line class="ax" x1="235.0" y1="1339.6" x2="262.6" y2="1339.6"/>
<line class="ax" x1="235.0" y1="1196.9" x2="262.6" y2="1196.9"/>
<line class="ax" x1="235.0" y1="1054.2" x2="262.6" y2="1054.2"/>
<line class="ax" x1="235.0" y1="911.5" x2="262.6" y2="911.5"/>
<line class="ax" x1="235.0" y1="768.8" x2="262.6" y2="768.8"/>
<line class="ax" x1="235.0" y1="626.1" x2="262.6" y2="626.1"/>
<line class="ax" x1="235.0" y1="483.4" x2="262.6" y2="483.4"/>
<line class="ax" x1="235.0" y1="340.7" x2="262.6" y2="340.7"/>
<line class="ax" x1="235.0" y1="198.0" x2="262.6" y2="198.0"/>
<line class="ax" x1="500.5" y1="1482.3" x2="500.5" y2="1510.0"/>
<line class="ax" x1="738.5" y1="1482.3" x2="738.5" y2="1510.0"/>
<line class="ax" x1="976.4" y1="1482.3" x2="976.4" y2="1510.0"/>
<line class="ax" x1="1214.4" y1="1482.3" x2="1214.4" y2="1510.0"/>
<line class="ax" x1="1452.3" y1="1482.3" x2="1452.3" y2="1510.0"/>
</g>
<g id="ticklabels">
<text class="tick" text-anchor="end" transform="translate(215.4 1504.3) scale(1 1.05)">0</text>
<text class="tick" text-anchor="end" transform="translate(215.4 1361.6) scale(1 1.05)">10</text>
<text class="tick" text-anchor="end" transform="translate(215.4 1218.9) scale(1 1.05)">20</text>
<text class="tick" text-anchor="end" transform="translate(215.4 1076.2) scale(1 1.05)">30</text>
<text class="tick" text-anchor="end" transform="translate(215.4 933.5) scale(1 1.05)">40</text>
<text class="tick" text-anchor="end" transform="translate(215.4 790.8) scale(1 1.05)">50</text>
<text class="tick" text-anchor="end" transform="translate(215.4 648.1) scale(1 1.05)">60</text>
<text class="tick" text-anchor="end" transform="translate(215.4 505.4) scale(1 1.05)">70</text>
<text class="tick" text-anchor="end" transform="translate(215.4 362.7) scale(1 1.05)">80</text>
<text class="tick" text-anchor="end" transform="translate(215.4 220.0) scale(1 1.05)">90</text>
<text class="tick" text-anchor="end" transform="translate(215.4 77.3) scale(1 1.05)">100</text>
<text class="tick" text-anchor="middle" transform="translate(262.6 1589.6) scale(1 1.05)">0</text>
<text class="tick" text-anchor="middle" transform="translate(500.5 1589.6) scale(1 1.05)">100</text>
<text class="tick" text-anchor="middle" transform="translate(738.5 1589.6) scale(1 1.05)">200</text>
<text class="tick" text-anchor="middle" transform="translate(976.4 1589.6) scale(1 1.05)">300</text>
<text class="tick" text-anchor="middle" transform="translate(1214.4 1589.6) scale(1 1.05)">400</text>
<text class="tick" text-anchor="middle" transform="translate(1452.3 1589.6) scale(1 1.05)">500</text>
<text class="tick" text-anchor="middle" transform="translate(1690.3 1589.6) scale(1 1.05)">600</text>
</g>
<text class="ttl" text-anchor="middle" x="976" y="1677">Temperature (°C)</text>
<text class="ttl" style="font-size:72.7px" text-anchor="middle" transform="translate(89 767.4) rotate(-90)">Weight (%)</text>
<g id="legend">
<rect x="1099" y="73.5" width="577" height="356" fill="#fefefe" stroke="#b4b4b4" stroke-width="2.6"/>
<line class="ll" stroke="#000000" x1="1128" y1="125" x2="1236" y2="125"/>
<text class="leg" transform="translate(1263.6 140.7) scale(0.934 1)">PEO/PVA</text>
<line class="ll" stroke="#b81c20" x1="1128" y1="188.3" x2="1236" y2="188.3"/>
<text class="leg" transform="translate(1263.6 204.0) scale(0.934 1)">PEO/PVA/FGO(0.5)</text>
<line class="ll" stroke="#3580d0" x1="1128" y1="251.3" x2="1236" y2="251.3"/>
<text class="leg" transform="translate(1263.6 267.0) scale(0.934 1)">PEO/PVA/FGO(1)</text>
<line class="ll" stroke="#218848" x1="1128" y1="314.3" x2="1236" y2="314.3"/>
<text class="leg" transform="translate(1263.6 330.0) scale(0.934 1)">PEO/PVA/FGO(2)</text>
<line class="ll" stroke="#7e1c98" x1="1128" y1="377" x2="1236" y2="377"/>
<text class="leg" transform="translate(1263.6 392.7) scale(0.934 1)">PEO/PVA/FGO(3)</text>
</g>
</svg>
</body>
</html>
